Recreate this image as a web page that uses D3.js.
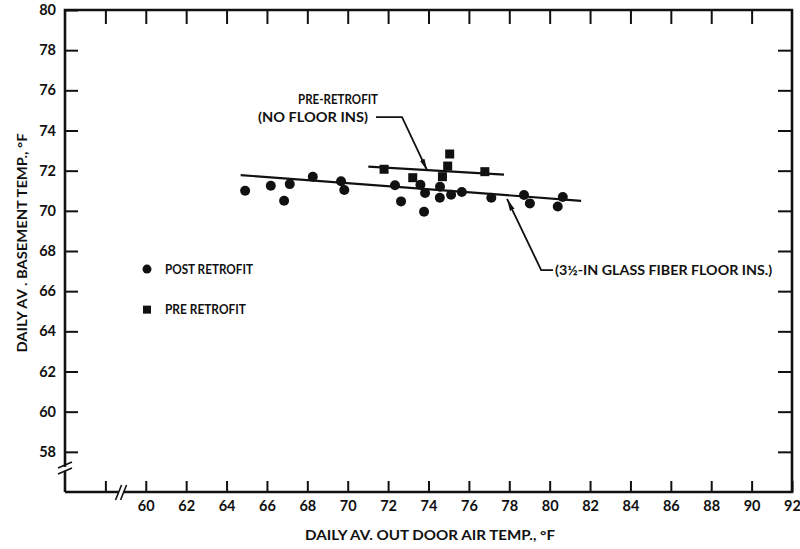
<!DOCTYPE html>
<html>
<head>
<meta charset="utf-8">
<script src="https://cdn.jsdelivr.net/npm/d3@7"></script>
<style>
  html, body { margin: 0; padding: 0; background: #fff; }
  svg { display: block; }
  text { font-family: "Lato", "DejaVu Sans", sans-serif; font-weight: 700; fill: #111; }
</style>
</head>
<body>
<svg id="chart" width="800" height="549"></svg>
<script>
// ---- data ----
const postX = [64.92, 66.19, 66.85, 67.13, 68.27, 69.67, 69.83, 72.34, 72.64, 73.60, 73.83,
               73.78, 74.57, 74.56, 75.12, 75.65, 77.11, 78.73, 79.02, 80.40, 80.65];
const postY = [71.00, 71.25, 70.50, 71.33, 71.70, 71.47, 71.04, 71.27, 70.47, 71.30, 70.89,
               69.95, 71.20, 70.65, 70.80, 70.94, 70.65, 70.79, 70.37, 70.22, 70.69];
const preX = [71.80, 73.22, 75.05, 74.95, 74.69, 76.79];
const preY = [72.07, 71.65, 72.83, 72.23, 71.70, 71.95];
const postFitX = [64.70, 81.56];
const postFitY = [71.78, 70.50];
const preFitX = [71.02, 77.74];
const preFitY = [72.20, 71.80];
const xTickValues = [58, 60, 62, 64, 66, 68, 70, 72, 74, 76, 78, 80, 82, 84, 86, 88, 90, 92];
const xTickLabels = ["", "60", "62", "64", "66", "68", "70", "72", "74", "76", "78", "80", "82", "84", "86", "88", "90", "92"];
const yTickValues = [58, 60, 62, 64, 66, 68, 70, 72, 74, 76, 78, 80];
const yTickLabels = ["58", "60", "62", "64", "66", "68", "70", "72", "74", "76", "78", "80"];
const legendLabels = ["POST RETROFIT", "PRE RETROFIT"];
const xTitle = "DAILY AV.  OUT DOOR AIR TEMP., \u00B0F";
const yTitle = "DAILY AV . BASEMENT TEMP., \u00B0F";
const preNote = ["PRE-RETROFIT", "(NO FLOOR INS)"];
const postNote = "(3\u00BD-IN GLASS FIBER FLOOR INS.)";

// ---- layout ----
const L = 65, R = 792, T = 10, B = 492;
const svg = d3.select("#chart");
const x = d3.scaleLinear().domain([56, 92]).range([L, R]);
const y = d3.scaleLinear().domain([56, 80]).range([B, T]);
const ink = "#111";

// axes (ticks pointing inward)
const gBottom = svg.append("g").attr("transform", `translate(0,${B})`)
  .call(d3.axisBottom(x).tickValues(xTickValues).tickSizeInner(-11).tickSizeOuter(0).tickPadding(9)
    .tickFormat((d, i) => xTickLabels[i]));
const gTop = svg.append("g").attr("transform", `translate(0,${T})`)
  .call(d3.axisTop(x).tickValues(xTickValues.slice(0, -1)).tickSizeInner(-14).tickSizeOuter(0).tickFormat(""));
const gLeft = svg.append("g").attr("transform", `translate(${L},0)`)
  .call(d3.axisLeft(y).tickValues(yTickValues).tickSizeInner(-13).tickSizeOuter(0).tickPadding(9)
    .tickFormat((d, i) => yTickLabels[i]));
const gRight = svg.append("g").attr("transform", `translate(${R},0)`)
  .call(d3.axisRight(y).tickValues(yTickValues.slice(0, -1)).tickSizeInner(-14).tickSizeOuter(0).tickFormat(""));

[gBottom, gTop, gLeft, gRight].forEach(g => {
  g.select(".domain").remove();
  g.selectAll(".tick line").attr("stroke", ink).attr("stroke-width", 2);
  g.selectAll(".tick text").attr("font-size", 14.5).attr("fill", ink)
    .style("font-family", "Lato, 'DejaVu Sans', sans-serif").style("font-weight", 700);
});

// frame
const frame = svg.append("g").attr("stroke", ink).attr("stroke-width", 2.6).attr("fill", "none");
frame.append("path").attr("d", `M${L},${B}V${T}H${R}V${B}H${L}`);

// axis breaks
const brk = svg.append("g");
brk.append("rect").attr("x", L - 3).attr("y", y(57.15) - 2).attr("width", 6).attr("height", 4).attr("fill", "#fff");
brk.append("line").attr("x1", L - 7).attr("y1", y(57.15) - 1).attr("x2", L + 7).attr("y2", y(57.15) - 7)
  .attr("stroke", ink).attr("stroke-width", 1.6);
brk.append("line").attr("x1", L - 7).attr("y1", y(57.15) + 5).attr("x2", L + 7).attr("y2", y(57.15) - 1)
  .attr("stroke", ink).attr("stroke-width", 1.6);
brk.append("rect").attr("x", x(58.75) - 2).attr("y", B - 3).attr("width", 5).attr("height", 6).attr("fill", "#fff");
brk.append("line").attr("x1", x(58.75) - 5).attr("y1", B + 8).attr("x2", x(58.75) + 1).attr("y2", B - 7)
  .attr("stroke", ink).attr("stroke-width", 1.6);
brk.append("line").attr("x1", x(58.75)).attr("y1", B + 8).attr("x2", x(58.75) + 6).attr("y2", B - 7)
  .attr("stroke", ink).attr("stroke-width", 1.6);

// fit lines
const line = d3.line().x(d => x(d[0])).y(d => y(d[1]));
svg.append("path").attr("d", line(d3.zip(postFitX, postFitY)))
  .attr("stroke", ink).attr("stroke-width", 2.2).attr("fill", "none");
svg.append("path").attr("d", line(d3.zip(preFitX, preFitY)))
  .attr("stroke", ink).attr("stroke-width", 2.2).attr("fill", "none");

// points
svg.append("g").selectAll("circle").data(d3.zip(postX, postY)).join("circle")
  .attr("cx", d => x(d[0])).attr("cy", d => y(d[1])).attr("r", 5).attr("fill", ink);
const sq = 9;
svg.append("g").selectAll("rect").data(d3.zip(preX, preY)).join("rect")
  .attr("x", d => x(d[0]) - sq / 2).attr("y", d => y(d[1]) - sq / 2)
  .attr("width", sq).attr("height", sq).attr("fill", ink);

// arrow markers
svg.append("defs").append("marker").attr("id", "ah")
  .attr("viewBox", "0 0 12 8").attr("refX", 12).attr("refY", 4)
  .attr("markerWidth", 12).attr("markerHeight", 8).attr("markerUnits", "userSpaceOnUse")
  .attr("orient", "auto")
  .append("path").attr("d", "M0,1.5L12,4L0,6.5Z").attr("fill", ink);

const arrow1 = [[71.40, 74.67], [72.69, 74.67], [73.94, 72.0]];
const arrow2 = [[80.17, 67.05], [79.58, 67.05], [77.89, 70.59]];
[arrow1, arrow2].forEach(a => {
  svg.append("path").attr("d", line(a)).attr("fill", "none")
    .attr("stroke", ink).attr("stroke-width", 1.8).attr("marker-end", "url(#ah)");
});

// text helper: fixed width to mimic the reference's wide lettering
function label(g, px, py, str, size, width, anchor) {
  return g.append("text").attr("x", px).attr("y", py).attr("dy", "0.35em")
    .attr("font-size", size).attr("text-anchor", anchor || "start")
    .attr("textLength", width).attr("lengthAdjust", "spacingAndGlyphs").text(str);
}

// annotations
const ann = svg.append("g");
label(ann, x(67.54), y(75.57), preNote[0], 13.5, 80);
label(ann, x(65.56), y(74.67), preNote[1], 13.5, 110);
label(ann, x(80.27), y(67.05), postNote, 13.5, 217);

// legend
const lg = svg.append("g");
lg.append("circle").attr("cx", x(60.06)).attr("cy", y(67.1)).attr("r", 4.5).attr("fill", ink);
label(lg, x(60.95), y(67.1), legendLabels[0], 13.5, 88);
lg.append("rect").attr("x", x(60.06) - 4).attr("y", y(65.08) - 4).attr("width", 8).attr("height", 8).attr("fill", ink);
label(lg, x(60.95), y(65.08), legendLabels[1], 13.5, 81);

// axis titles
label(svg, 430, 535, xTitle, 13, 250, "middle");
const yt = svg.append("g").attr("transform", "translate(22,243) rotate(-90)");
label(yt, 0, 0, yTitle, 13, 219, "middle");
</script>
</body>
</html>
